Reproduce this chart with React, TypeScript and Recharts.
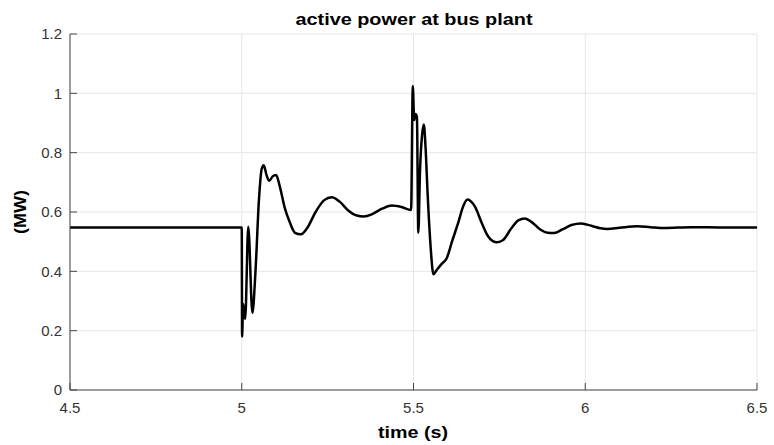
import React from 'react';
import { LineChart, Line, XAxis, YAxis, CartesianGrid } from 'recharts';

const timeS: number[] = [
  4.5, 5.0, 5.001, 5.004, 5.007, 5.01, 5.019, 5.031, 5.04, 5.05, 5.058, 5.064, 5.072, 5.08, 5.09, 5.1,
  5.11, 5.125, 5.14, 5.155, 5.172, 5.19, 5.215, 5.24, 5.262, 5.285, 5.31, 5.335, 5.355, 5.38, 5.41,
  5.437, 5.465, 5.493, 5.498, 5.502, 5.506, 5.51, 5.514, 5.519, 5.525, 5.53, 5.535, 5.541, 5.55,
  5.558, 5.568, 5.582, 5.597, 5.612, 5.63, 5.645, 5.657, 5.668, 5.679, 5.698, 5.717, 5.741, 5.76,
  5.785, 5.805, 5.824, 5.845, 5.87, 5.89, 5.909, 5.935, 5.96, 5.988, 6.02, 6.045, 6.065, 6.1, 6.152,
  6.19, 6.23, 6.31, 6.4, 6.5,
];

const powerMW: number[] = [
  0.548, 0.548, 0.18, 0.29, 0.26, 0.24, 0.55, 0.26, 0.4, 0.64, 0.745, 0.758, 0.725, 0.705, 0.72, 0.725,
  0.69, 0.615, 0.565, 0.53, 0.525, 0.545, 0.6, 0.64, 0.65, 0.635, 0.605, 0.588, 0.585, 0.593, 0.612,
  0.622, 0.617, 0.607, 1.025, 0.91, 0.93, 0.92, 0.53, 0.74, 0.86, 0.895, 0.82, 0.664, 0.48,
  0.39, 0.405, 0.425, 0.445, 0.5, 0.563, 0.62, 0.642, 0.635, 0.618, 0.565, 0.518, 0.498, 0.505,
  0.545, 0.572, 0.578, 0.565, 0.54, 0.53, 0.529, 0.542, 0.556, 0.561, 0.553, 0.545, 0.543, 0.547, 0.552,
  0.549, 0.546, 0.549, 0.548, 0.548,
];

const xTicks: number[] = [4.5, 5, 5.5, 6, 6.5];
const yTicks: number[] = [0, 0.2, 0.4, 0.6, 0.8, 1, 1.2];

const TITLE = 'active power at bus plant';
const X_LABEL = 'time (s)';
const Y_LABEL = '(MW)';

const data = timeS.map((t, i) => ({ t, p: powerMW[i] }));

const FONT = 'Arial, "Liberation Sans", Helvetica, sans-serif';
const tickStyle = { fontSize: 15, fill: '#333333', fontFamily: FONT };
const AXIS = '#444444';

export default function App() {
  return (
    <div style={{ position: 'absolute', left: 0, top: 0, width: 774, height: 445, background: '#fff' }}>
      <LineChart width={774} height={445} data={data} margin={{ top: 34, right: 17, bottom: 5, left: 30 }}>
        <text x={414} y={25} textAnchor="middle" fontSize={16.5} fontWeight="bold" fill="#000" fontFamily={FONT} textLength={237} lengthAdjust="spacingAndGlyphs">
          {TITLE}
        </text>
        <text x={413} y={438} textAnchor="middle" fontSize={16} fontWeight="bold" fill="#000" fontFamily={FONT} textLength={70} lengthAdjust="spacingAndGlyphs">
          {X_LABEL}
        </text>
        <text x={0} y={0} transform="translate(26,212) rotate(-90)" textAnchor="middle" fontSize={16} fontWeight="bold" fill="#000" fontFamily={FONT} textLength={44} lengthAdjust="spacingAndGlyphs">
          {Y_LABEL}
        </text>
        <CartesianGrid stroke="#e6e6e6" strokeWidth={1} />
        <XAxis
          dataKey="t"
          type="number"
          domain={[4.5, 6.5]}
          ticks={xTicks}
          allowDataOverflow
          height={50}
          stroke={AXIS}
          tickSize={-7}
          tickMargin={19}
          tick={tickStyle}
          tickFormatter={(v: number) => String(v)}
        />
        <XAxis xAxisId="top" orientation="top" dataKey="t" type="number" domain={[4.5, 6.5]} ticks={xTicks} height={0} stroke={AXIS} tickSize={-7} tick={tickStyle} tickFormatter={() => ''} />
        <YAxis
          type="number"
          domain={[0, 1.2]}
          ticks={yTicks}
          width={40}
          stroke={AXIS}
          tickSize={-7}
          tickMargin={15}
          tick={tickStyle}
          tickFormatter={(v: number) => String(v)}
        />
        <YAxis yAxisId="right" orientation="right" type="number" domain={[0, 1.2]} ticks={yTicks} width={0} stroke={AXIS} tickSize={-7} tick={tickStyle} tickFormatter={() => ''} />
        <Line type="monotone" dataKey="p" stroke="#000" strokeWidth={2.5} dot={false} isAnimationActive={false} />
      </LineChart>
    </div>
  );
}
